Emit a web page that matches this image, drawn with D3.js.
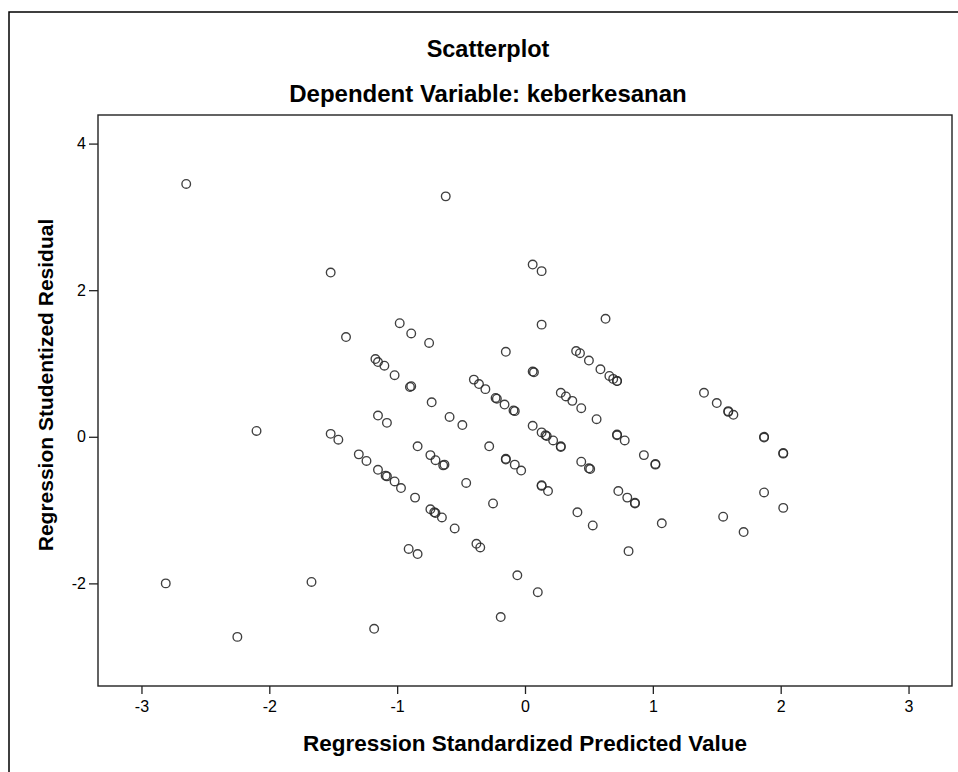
<!DOCTYPE html>
<html>
<head>
<meta charset="utf-8">
<script src="https://cdn.jsdelivr.net/npm/d3@7"></script>
<style>
  body { margin: 0; background: #fff; }
  text { font-family: "Liberation Sans", Arial, sans-serif; fill: #000; }
</style>
</head>
<body>
<svg id="svg"></svg>
<script>
let width = 958, height = 772;
let plot = { left: 98, top: 115, right: 952, bottom: 686 };

// predicted (x) and studentized residual (y)
let predicted = [
  -2.65, -0.62, -1.52, -0.98, -0.89, -0.75, -1.40, -0.15, -1.17, -1.15,
  -1.10, -1.02, -0.90, -0.89, -0.73, -0.59, -0.49, -1.15, -1.08, -2.10,
  -1.52, -1.46, -0.40, -0.36, -0.31, -0.23, -0.22, -0.16, -0.09, -0.08,
  0.06, 0.13, 0.13, 0.63, 0.40, 0.43, 0.50, 0.59, 0.66, 0.69,
  0.72, 0.72, 0.06, 0.07, 0.28, 0.32, 0.37, 0.44, 0.56, 0.06,
  0.13, 0.16, 0.17, 0.22, 0.28, 0.28, 0.72, 0.72, 0.78, 1.40,
  1.50, 1.59, 1.59, 1.63, 1.87, 1.87, 2.02, 2.02,
  -0.84, -0.74, -0.70, -0.64, -0.63, -0.28, -0.15, -0.15, -0.08, -0.03,
  -0.46, -0.25, -1.30, -1.24, -1.15, -1.09, -1.08, -1.02, -0.97, -0.86,
  -0.74, -0.71, -0.70, -0.65, -0.55, -0.38, -0.35, -0.91, -0.84, -0.06,
  -0.19, -2.81, -1.67, -2.25, -1.18,
  0.44, 0.50, 0.51, 0.93, 1.02, 1.02, 0.13, 0.13, 0.18, 0.41,
  0.53, 0.73, 0.80, 0.86, 0.86, 1.07, 0.81, 0.10, 1.87, 2.02,
  1.55, 1.71
];
let residual = [
  3.45, 3.28, 2.24, 1.55, 1.41, 1.28, 1.36, 1.16, 1.06, 1.02,
  0.97, 0.84, 0.68, 0.69, 0.47, 0.27, 0.16, 0.29, 0.19, 0.08,
  0.04, -0.04, 0.78, 0.72, 0.65, 0.53, 0.52, 0.44, 0.36, 0.35,
  2.35, 2.26, 1.53, 1.61, 1.17, 1.14, 1.04, 0.92, 0.83, 0.79,
  0.76, 0.76, 0.89, 0.88, 0.60, 0.55, 0.49, 0.39, 0.24, 0.15,
  0.06, 0.02, 0.01, -0.05, -0.14, -0.13, 0.02, 0.03, -0.05, 0.60,
  0.46, 0.34, 0.35, 0.30, 0.00, -0.01, -0.23, -0.22,
  -0.13, -0.25, -0.32, -0.39, -0.38, -0.13, -0.30, -0.31, -0.38, -0.46,
  -0.63, -0.91, -0.24, -0.33, -0.45, -0.53, -0.54, -0.61, -0.70, -0.83,
  -0.99, -1.03, -1.04, -1.10, -1.25, -1.46, -1.51, -1.53, -1.60, -1.89,
  -2.46, -2.00, -1.98, -2.73, -2.62,
  -0.34, -0.43, -0.44, -0.25, -0.38, -0.37, -0.66, -0.67, -0.74, -1.03,
  -1.21, -0.74, -0.83, -0.91, -0.90, -1.18, -1.56, -2.12, -0.76, -0.97,
  -1.09, -1.30
];
let xTicks = [-3, -2, -1, 0, 1, 2, 3];
let yTicks = [-2, 0, 2, 4];

let title = "Scatterplot";
let subtitle = "Dependent Variable: keberkesanan";
let xLabel = "Regression Standardized Predicted Value";
let yLabel = "Regression Studentized Residual";

let svg = d3.select("#svg").attr("width", width).attr("height", height);

// outer frame (runs off the right and bottom edges)
svg.append("rect")
  .attr("x", 9).attr("y", 12)
  .attr("width", 1000).attr("height", 800)
  .attr("fill", "none").attr("stroke", "#000").attr("stroke-width", 1.5);

let xScale = d3.scaleLinear().domain([-3.34, 3.34]).range([plot.left, plot.right]);
let yScale = d3.scaleLinear().domain([-3.40, 4.39]).range([plot.bottom, plot.top]);

// titles
svg.append("text").attr("x", 488).attr("y", 57)
  .attr("text-anchor", "middle").style("font-size", "23.5px").style("font-weight", "bold")
  .text(title);
svg.append("text").attr("x", 488).attr("y", 102)
  .attr("text-anchor", "middle").style("font-size", "24px").style("font-weight", "bold")
  .text(subtitle);

// axes (plain hyphen for minus, as in the original)
let fmt = d => String(d);
let xAxis = svg.append("g")
  .attr("transform", `translate(0, ${plot.bottom})`)
  .call(d3.axisBottom(xScale).tickValues(xTicks).tickFormat(fmt).tickSize(8).tickPadding(7).tickSizeOuter(0));
let yAxis = svg.append("g")
  .attr("transform", `translate(${plot.left}, 0)`)
  .call(d3.axisLeft(yScale).tickValues(yTicks).tickFormat(fmt).tickSize(9).tickPadding(3).tickSizeOuter(0));

[xAxis, yAxis].forEach(a => {
  a.attr("font-size", null).attr("font-family", null);
  a.select(".domain").remove();
  a.selectAll(".tick line").attr("stroke", "#222").attr("stroke-width", 1.3);
  a.selectAll(".tick text").style("font-size", "16px").attr("fill", "#000");
});

// plot frame
svg.append("rect")
  .attr("x", plot.left).attr("y", plot.top)
  .attr("width", plot.right - plot.left).attr("height", plot.bottom - plot.top)
  .attr("fill", "none").attr("stroke", "#222").attr("stroke-width", 1.4);

// points
let points = predicted.map((p, i) => ({ x: p, y: residual[i] }));
svg.append("g").selectAll("circle")
  .data(points)
  .join("circle")
  .attr("cx", d => xScale(d.x))
  .attr("cy", d => yScale(d.y))
  .attr("r", 4.3)
  .attr("fill", "none")
  .attr("stroke", "#2a2a2a")
  .attr("stroke-width", 1.35)
  .attr("stroke-opacity", 0.9);

// axis titles
svg.append("text").attr("x", 525).attr("y", 751)
  .attr("text-anchor", "middle").style("font-size", "22.5px").style("font-weight", "bold")
  .text(xLabel);
svg.append("text")
  .attr("transform", "translate(53, 385) rotate(-90)")
  .attr("text-anchor", "middle").style("font-size", "21px").style("font-weight", "bold")
  .text(yLabel);
</script>
</body>
</html>
